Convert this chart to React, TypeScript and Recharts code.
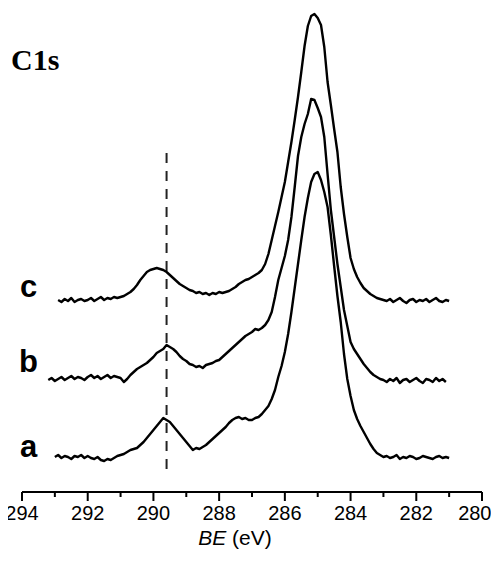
import React from 'react';
import { LineChart, Line, XAxis, YAxis, ReferenceLine, ReferenceDot } from 'recharts';

// Binding energy sampling (eV), 0.1 eV step, descending
const STEP = 0.1;
const aStart = 293.0;
const bStart = 293.2;
const cStart = 292.9;

// Intensities (a.u., offset spectra)
const aVals = [
  35, 37, 34, 36, 35, 33, 36, 35, 37, 34, 36, 34, 33, 35, 32, 31, 33, 32, 34, 36,
  37, 38, 40, 42, 43, 44, 47, 50, 54, 58,
  62, 66, 70, 74, 72, 70, 66, 62, 58, 54,
  50, 46, 42, 44, 43, 45, 47, 50, 53, 56,
  59, 62, 65, 69, 72, 74, 75, 73, 74, 72,
  72, 74, 75, 78, 82, 86, 93, 102, 115, 126,
  140, 158, 180, 204, 228, 252, 275, 294, 310, 318,
  320, 312, 300, 285, 257, 226, 196, 170, 138, 113,
  96, 82, 73, 66, 60, 54, 48, 43, 39, 37,
  35,
  36, 34, 35, 37, 33, 35, 34, 36, 35, 33, 34, 36, 35, 34, 33, 35, 36, 34, 35, 34,
];

const bVals = [
  112, 114, 111, 113, 115, 112, 114, 116, 113, 115, 114, 112, 115, 117, 114, 116, 113, 115, 117, 114, 116, 115,
  114, 110, 113, 117, 120, 123, 125, 127, 129, 132,
  135, 139, 141, 143, 147, 145, 143, 140, 136, 133,
  131, 128, 127, 125, 126, 124, 127, 128, 129, 131,
  132, 135, 138, 141, 144, 147, 150, 153, 156, 158,
  160, 163, 162, 164, 167, 172, 180, 195, 212, 224,
  236, 252, 275, 305, 336, 355, 368, 378, 393, 392,
  384, 375, 355, 318, 282, 255, 228, 205, 182, 166,
  150, 143, 138, 133, 128, 124, 120, 117, 115, 113,
  112,
  110, 113, 111, 114, 109, 112, 113, 110, 112, 114, 111, 109, 113, 112, 110, 114, 111, 113, 110,
];

const cVals = [
  192, 190, 193, 191, 194, 190, 192, 193, 191, 192, 194, 191, 193, 195, 192, 194, 193, 195, 194,
  195, 196, 198, 200, 203, 207, 212, 216, 220, 222,
  223, 224, 223, 222, 220, 217, 214, 211, 208, 206,
  204, 202, 201, 199, 200, 198, 199, 197, 199, 198,
  200, 199, 200, 201, 203, 205, 208, 210, 212, 213,
  215, 217, 219, 222, 228, 238, 252, 266, 280, 295,
  310, 330, 350, 372, 395, 420, 446, 466, 476, 478,
  474, 467, 445, 410, 387, 363, 340, 305, 278, 255,
  234, 223, 215, 209, 204, 201, 198, 196, 194, 193,
  192,
  191, 193, 190, 192, 194, 191, 189, 192, 193, 190, 192, 191, 193, 190, 192, 194, 191, 190, 192, 191,
];

const xTicks = [280, 281, 282, 283, 284, 285, 286, 287, 288, 289, 290, 291, 292, 293, 294];
const majorTicks = [280, 282, 284, 286, 288, 290, 292, 294];
const edgeTick = 280;
const dashX = 289.6;
const dashTop = 339;
const dashBottom = 15;
const labelBE = 293.8;
const seriesLabels = [
  { name: 'a', y: 35 },
  { name: 'b', y: 120 },
  { name: 'c', y: 195 },
];

const toSeries = (start: number, vals: number[]) =>
  vals.map((v, i) => ({ be: Math.round((start - i * STEP) * 10) / 10, v }));

const aData = toSeries(aStart, aVals);
const bData = toSeries(bStart, bVals);
const cData = toSeries(cStart, cVals);

const SANS = 'Liberation Sans, Arial, sans-serif';
const SERIF = 'Liberation Serif, Times New Roman, serif';

const Tick = (props: any) => {
  const { x, y, payload } = props;
  const val = payload.value;
  const major = majorTicks.includes(val);
  const atEdge = val === edgeTick;
  return (
    <g>
      <line x1={x} x2={x} y1={y} y2={y + (major ? 9 : 5)} stroke="#000" strokeWidth={2} />
      {major && (
        <text
          x={atEdge ? x + 9.5 : x}
          y={y + 28}
          textAnchor={atEdge ? 'end' : 'middle'}
          fontSize={20}
          fontFamily={SANS}
          fill="#000"
        >
          {val}
        </text>
      )}
    </g>
  );
};

const AxisTitle = (props: any) => {
  const vb = props.viewBox || { x: 0, y: 0, width: 0, height: 0 };
  const cx = vb.x + vb.width / 2 - 17;
  return (
    <text x={cx} y={vb.y + 53} textAnchor="middle" fontSize={21} fontFamily={SANS} fill="#000">
      <tspan fontStyle="italic">BE</tspan>
      <tspan> (eV)</tspan>
    </text>
  );
};

const DotLabel = (props: any) => {
  const vb = props.viewBox || { x: props.x, y: props.y, width: 0, height: 0 };
  const cx = vb.x + (vb.width || 0) / 2;
  const cy = vb.y + (vb.height || 0) / 2;
  return (
    <text x={cx} y={cy} textAnchor="middle" fontSize={31} fontWeight="bold" fontFamily={SANS} fill="#000">
      {props.text}
    </text>
  );
};

const LW = 2.4;

export default function App() {
  return (
    <div style={{ position: 'relative', width: 499, height: 546, marginLeft: -8 }}>
      <style>{`.recharts-wrapper, .recharts-surface { overflow: visible !important; }`}</style>
      <LineChart width={499} height={546} margin={{ top: 4, right: 17, bottom: 0, left: 22 }}>
        <XAxis
          type="number"
          dataKey="be"
          domain={[280, 294]}
          reversed
          ticks={xTicks}
          interval={0}
          allowDataOverflow
          tickLine={false}
          tickSize={0}
          tickMargin={0}
          tick={<Tick />}
          axisLine={{ stroke: '#000', strokeWidth: 2 }}
          height={62}
          label={<AxisTitle />}
        />
        <YAxis type="number" domain={[0, 480]} hide allowDataOverflow />
        <ReferenceLine
          segment={[
            { x: dashX, y: dashTop },
            { x: dashX, y: dashBottom },
          ]}
          stroke="#222"
          strokeWidth={2}
          strokeDasharray="10 8"
        />
        <Line data={aData} dataKey="v" type="linear" stroke="#000" strokeWidth={LW} dot={false} isAnimationActive={false} strokeLinejoin="round" />
        <Line data={bData} dataKey="v" type="linear" stroke="#000" strokeWidth={LW} dot={false} isAnimationActive={false} strokeLinejoin="round" />
        <Line data={cData} dataKey="v" type="linear" stroke="#000" strokeWidth={LW} dot={false} isAnimationActive={false} strokeLinejoin="round" />
        {seriesLabels.map((s) => (
          <ReferenceDot key={s.name} x={labelBE} y={s.y} r={0} fill="none" stroke="none" label={<DotLabel text={s.name} />} />
        ))}
      </LineChart>
      <div
        style={{
          position: 'absolute',
          left: 11,
          top: 37,
          fontFamily: SERIF,
          fontWeight: 'bold',
          fontSize: 30,
          lineHeight: '30px',
          color: '#000',
        }}
      >
        C1s
      </div>
    </div>
  );
}
